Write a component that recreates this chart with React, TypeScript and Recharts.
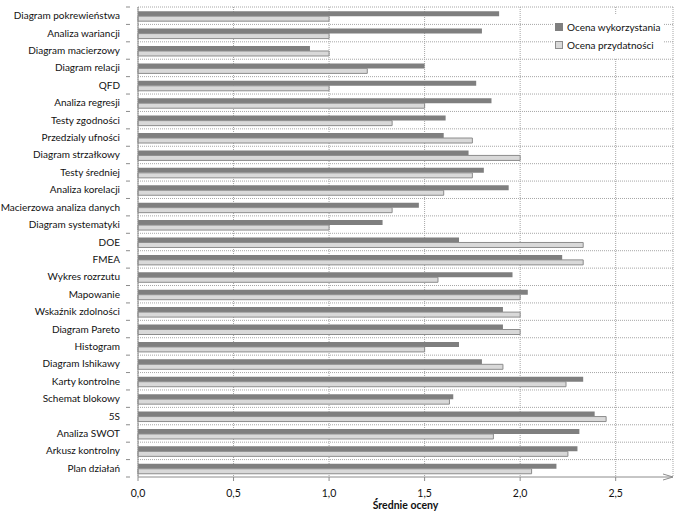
import { BarChart, Bar, XAxis, YAxis, CartesianGrid, Legend } from "recharts";

const categories = [
  "Diagram pokrewieństwa",
  "Analiza wariancji",
  "Diagram macierzowy",
  "Diagram relacji",
  "QFD",
  "Analiza regresji",
  "Testy zgodności",
  "Przedzialy ufności",
  "Diagram strzałkowy",
  "Testy średniej",
  "Analiza korelacji",
  "Macierzowa analiza danych",
  "Diagram systematyki",
  "DOE",
  "FMEA",
  "Wykres rozrzutu",
  "Mapowanie",
  "Wskaźnik zdolności",
  "Diagram Pareto",
  "Histogram",
  "Diagram Ishikawy",
  "Karty kontrolne",
  "Schemat blokowy",
  "5S",
  "Analiza SWOT",
  "Arkusz kontrolny",
  "Plan działań",
];

const ocenaWykorzystania = [
  1.89, 1.8, 0.9, 1.5, 1.77, 1.85, 1.61, 1.6, 1.73, 1.81, 1.94, 1.47, 1.28, 1.68,
  2.22, 1.96, 2.04, 1.91, 1.91, 1.68, 1.8, 2.33, 1.65, 2.39, 2.31, 2.3, 2.19,
];

const ocenaPrzydatnosci = [
  1.0, 1.0, 1.0, 1.2, 1.0, 1.5, 1.33, 1.75, 2.0, 1.75, 1.6, 1.33, 1.0, 2.33,
  2.33, 1.57, 2.0, 2.0, 2.0, 1.5, 1.91, 2.24, 1.63, 2.45, 1.86, 2.25, 2.06,
];

const xTicks = [0, 0.5, 1, 1.5, 2, 2.5];

const data = categories.map((name, i) => ({
  name,
  wyk: ocenaWykorzystania[i],
  prz: ocenaPrzydatnosci[i],
}));

const FONT = "Lato, 'Open Sans', sans-serif";
const AXIS = "#8c8c8c";
const GRID = "#a6a6a6";
const DARK = "#7f7f7f";
const LIGHT = "#d9d9d9";
const SERIES_ORDER = ["wyk", "prz"];

// category label at band centre, tick marks on band edges
const CatTick = (props: any) => {
  const { x, y, payload, index } = props;
  const half = payload.offset || 0;
  return (
    <g>
      <line x1={x - 4} x2={x} y1={y - half} y2={y - half} stroke={AXIS} />
      {index === categories.length - 1 && (
        <line x1={x - 4} x2={x} y1={y + half} y2={y + half} stroke={AXIS} />
      )}
      <text x={x - 10} y={y} dy="0.35em" textAnchor="end" fontSize={10} fill="#111" fontFamily={FONT}>
        {payload.value}
      </text>
    </g>
  );
};

const LegendBox = (props: any) => {
  const items = [...(props.payload || [])].sort(
    (a: any, b: any) => SERIES_ORDER.indexOf(a.dataKey) - SERIES_ORDER.indexOf(b.dataKey)
  );
  return (
    <div style={{ background: "#fff", padding: "3px 0 4px 2px", fontFamily: FONT, fontSize: 10, color: "#111", whiteSpace: "nowrap" }}>
      {items.map((p: any, i: number) => (
        <div key={i} style={{ display: "flex", alignItems: "center", height: 18 }}>
          <span
            style={{
              display: "inline-block",
              width: 6,
              height: 6,
              marginRight: 4,
              background: p.color,
              border: `1px solid ${p.dataKey === "prz" ? AXIS : DARK}`,
            }}
          />
          {p.value}
        </div>
      ))}
    </div>
  );
};

export default function App() {
  return (
    <div style={{ width: 684, height: 511, background: "#fff" }}>
      <style>{`body{margin:0}`}</style>
      <BarChart
        width={684}
        height={511}
        data={data}
        layout="vertical"
        margin={{ top: 7, right: 11, left: 0, bottom: 0 }}
        barCategoryGap="24%"
        barGap={0}
        style={{ fontFamily: FONT }}
      >
        <defs>
          <marker id="arr" markerWidth="10" markerHeight="8" refX="10" refY="4" orient="auto" markerUnits="userSpaceOnUse">
            <path d="M0,1 L10,4 L0,7" fill="none" stroke={AXIS} />
          </marker>
        </defs>
        <CartesianGrid
          stroke={GRID}
          strokeDasharray="1 1"
          horizontalCoordinatesGenerator={({ offset }: any) =>
            categories.map((_, i) => offset.top + (i * offset.height) / categories.length)
          }
        />
        <XAxis
          type="number"
          domain={[0, 2.8]}
          ticks={xTicks}
          tickFormatter={(v: number) => v.toFixed(1).replace(".", ",")}
          axisLine={{ stroke: AXIS, markerEnd: "url(#arr)" }}
          tickLine={{ stroke: AXIS }}
          tickSize={4}
          tickMargin={9}
          height={34}
          tick={{ fontSize: 10.5, fill: "#111" }}
          label={{ value: "Średnie oceny", position: "insideBottom", offset: 2, fontSize: 10.5, fontWeight: "bold", fill: "#111" }}
        />
        <YAxis
          type="category"
          dataKey="name"
          width={138}
          axisLine={{ stroke: AXIS }}
          tickLine={false}
          interval={0}
          tick={<CatTick />}
        />
        <Legend
          layout="vertical"
          verticalAlign="middle"
          align="center"
          content={<LegendBox />}
          wrapperStyle={{ top: 15, left: 553, width: 110 }}
        />
        <Bar dataKey="wyk" name="Ocena wykorzystania" fill={DARK} isAnimationActive={false} />
        <Bar dataKey="prz" name="Ocena przydatności" fill={LIGHT} stroke={AXIS} strokeWidth={1} isAnimationActive={false} />
      </BarChart>
    </div>
  );
}
